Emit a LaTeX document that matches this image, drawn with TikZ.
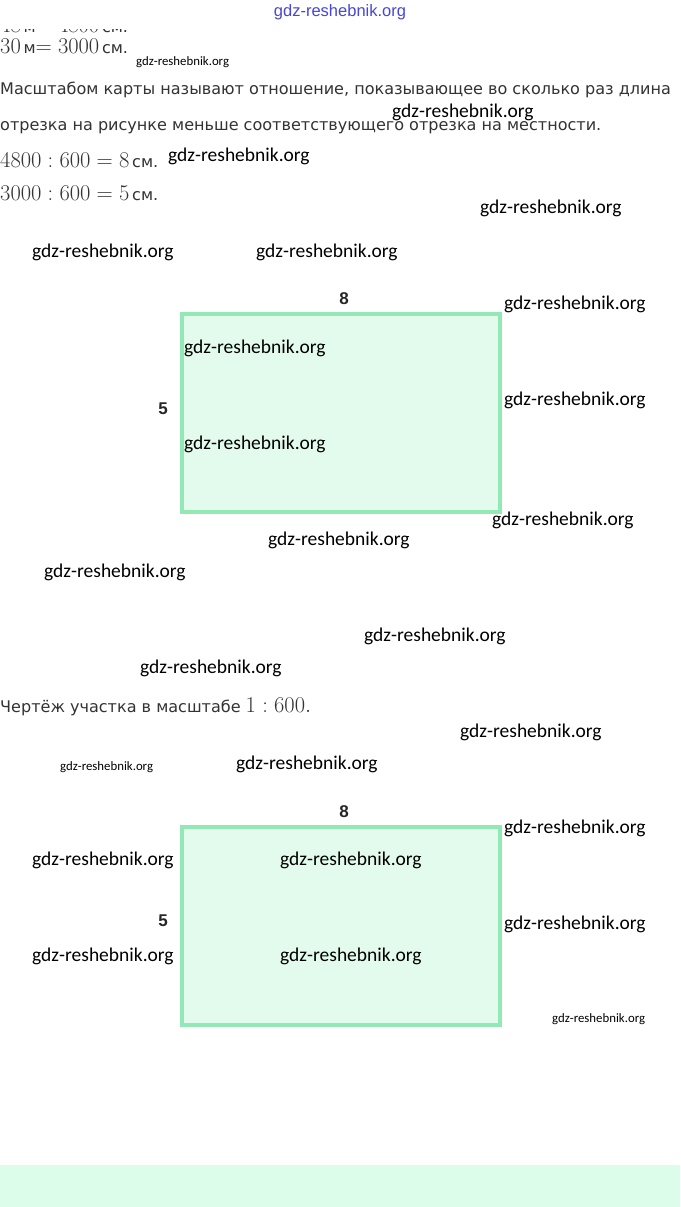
\RequirePackage{fix-cm}
\documentclass[tikz,border=0pt]{standalone}
\usepackage{fontspec}
\newfontfamily\wmfont{Carlito}
\newfontfamily\rufont{DejaVu Sans}
\newfontfamily\lblfont{Liberation Sans}
\definecolor{txtgray}{HTML}{333333}
\definecolor{rectline}{HTML}{93E9B5}
\definecolor{rectfill}{HTML}{E3FBEC}
\definecolor{bandfill}{HTML}{DDFDEB}
\definecolor{hdrblue}{HTML}{4646D8}
\newcommand{\mth}[1]{{\fontsize{22.5}{24}\selectfont$#1$}}
\tikzset{
  wmL/.style={font=\wmfont\fontsize{19.5}{22}\selectfont, anchor=west, inner sep=0pt, text=black},
  wmS/.style={font=\wmfont\fontsize{12.8}{15}\selectfont, anchor=west, inner sep=0pt, text=black},
  txt/.style={font=\rufont\fontsize{16.05}{20}\selectfont, anchor=base west, inner sep=0pt, text=txtgray},
  plot/.style={draw=rectline, fill=rectfill, line width=4pt, minimum width=318pt, minimum height=198pt, inner sep=0pt, anchor=north west},
  dimlbl/.style={font=\lblfont\bfseries\fontsize{17}{20}\selectfont, text=black!85, inner sep=0pt}
}
\begin{document}
\begin{tikzpicture}[x=1pt,y=-1pt]
\useasboundingbox (0,0) rectangle (680,1207);
\fill[white] (0,0) rectangle (680,1207);
\fill[bandfill] (0,1165) rectangle (680,1207);

% partly hidden line (its upper part is covered)
\node[txt] (cut) at (0,33) {\mth{48}\,м\mth{=4800}\,см.};
\fill[white] (0,0) rectangle (680,29.5);

% header
\node[font=\lblfont\fontsize{16.5}{18}\selectfont, text=hdrblue, inner sep=0pt] (hdr) at (340,12) {gdz-reshebnik.org};

\node[txt] (l1) at (0,53) {\mth{30}\,м\mth{=3000}\,см.};
\node[txt] (l2) at (0,95) {Масштабом карты называют отношение, показывающее во сколько раз длина};
\node[txt] (l3) at (0,130) {отрезка на рисунке меньше соответствующего отрезка на местности.};
\node[txt] (l4) at (0,167) {\mth{4800:600=8}\,см.};
\node[txt] (l5) at (0,200) {\mth{3000:600=5}\,см.};
\node[txt] (l6) at (0,712) {Чертёж участка в масштабе \mth{1:600.}};

% plots
\node[plot] (rectA) at (180,312) {};
\node[dimlbl] (topA) at (344,299) {8};
\node[dimlbl] (sideA) at (163,409) {5};
\node[plot] (rectB) at (180,825) {};
\node[dimlbl] (topB) at (344,812) {8};
\node[dimlbl] (sideB) at (163,921) {5};

% watermarks
\node[wmS] (w1) at (136,62) {gdz-reshebnik.org};
\node[wmL] (w2) at (392,112) {gdz-reshebnik.org};
\node[wmL] (w3) at (168,156) {gdz-reshebnik.org};
\node[wmL] (w4) at (480,208) {gdz-reshebnik.org};
\node[wmL] (w5) at (32,252) {gdz-reshebnik.org};
\node[wmL] (w6) at (256,252) {gdz-reshebnik.org};
\node[wmL] (w7) at (504,304) {gdz-reshebnik.org};
\node[wmL] (w8) at (184,348) {gdz-reshebnik.org};
\node[wmL] (w9) at (504,400) {gdz-reshebnik.org};
\node[wmL] (w10) at (184,444) {gdz-reshebnik.org};
\node[wmL] (w11) at (492,520) {gdz-reshebnik.org};
\node[wmL] (w12) at (268,540) {gdz-reshebnik.org};
\node[wmL] (w13) at (44,572) {gdz-reshebnik.org};
\node[wmL] (w14) at (364,636) {gdz-reshebnik.org};
\node[wmL] (w15) at (140,668) {gdz-reshebnik.org};
\node[wmL] (w16) at (460,732) {gdz-reshebnik.org};
\node[wmS] (w17) at (60,767) {gdz-reshebnik.org};
\node[wmL] (w18) at (236,764) {gdz-reshebnik.org};
\node[wmL] (w19) at (504,828) {gdz-reshebnik.org};
\node[wmL] (w20) at (32,860) {gdz-reshebnik.org};
\node[wmL] (w21) at (280,860) {gdz-reshebnik.org};
\node[wmL] (w22) at (504,924) {gdz-reshebnik.org};
\node[wmL] (w23) at (32,956) {gdz-reshebnik.org};
\node[wmL] (w24) at (280,956) {gdz-reshebnik.org};
\node[wmS] (w25) at (552,1019) {gdz-reshebnik.org};
\end{tikzpicture}
\end{document}
